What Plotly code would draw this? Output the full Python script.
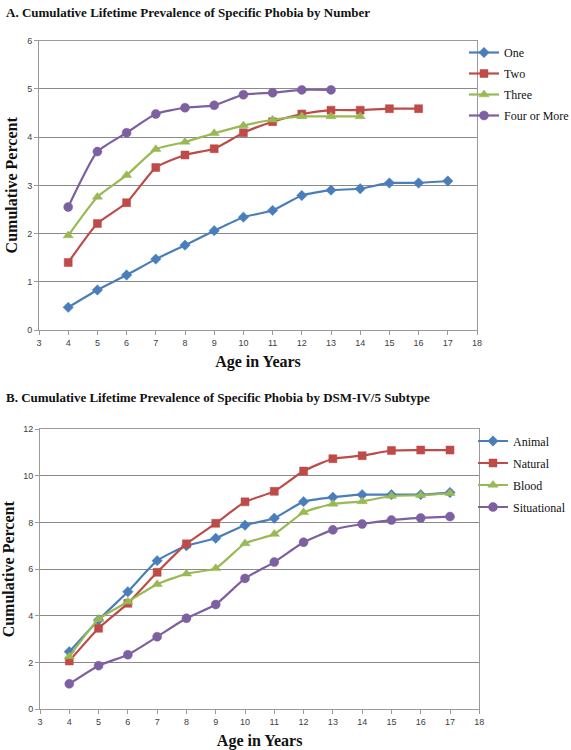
import plotly.graph_objects as go

# ---- Data: Panel A (by number of phobias) ----
ages_a_one = [4, 5, 6, 7, 8, 9, 10, 11, 12, 13, 14, 15, 16, 17]
one = [0.47, 0.83, 1.14, 1.47, 1.76, 2.06, 2.34, 2.48, 2.79, 2.90, 2.93, 3.05, 3.05, 3.09]
ages_a_two = [4, 5, 6, 7, 8, 9, 10, 11, 12, 13, 14, 15, 16]
two = [1.40, 2.21, 2.64, 3.37, 3.63, 3.76, 4.09, 4.32, 4.48, 4.56, 4.56, 4.59, 4.59]
ages_a_three = [4, 5, 6, 7, 8, 9, 10, 11, 12, 13, 14]
three = [1.96, 2.76, 3.21, 3.75, 3.90, 4.08, 4.24, 4.36, 4.43, 4.43, 4.43]
ages_a_four = [4, 5, 6, 7, 8, 9, 10, 11, 12, 13]
four_more = [2.55, 3.70, 4.09, 4.48, 4.61, 4.66, 4.88, 4.92, 4.98, 4.98]

# ---- Data: Panel B (by DSM-IV/5 subtype) ----
ages_b = [4, 5, 6, 7, 8, 9, 10, 11, 12, 13, 14, 15, 16, 17]
animal = [2.47, 3.83, 5.04, 6.37, 7.01, 7.33, 7.89, 8.19, 8.90, 9.09, 9.20, 9.20, 9.20, 9.29]
natural = [2.07, 3.47, 4.54, 5.87, 7.09, 7.97, 8.89, 9.34, 10.21, 10.74, 10.87, 11.09, 11.11, 11.11]
blood = [2.26, 3.86, 4.61, 5.36, 5.81, 6.04, 7.11, 7.51, 8.44, 8.80, 8.91, 9.14, 9.17, 9.26]
situational = [1.09, 1.87, 2.34, 3.11, 3.90, 4.49, 5.61, 6.31, 7.16, 7.69, 7.94, 8.11, 8.20, 8.26]

x_ticks = list(range(3, 19))
y_ticks_a = [0, 1, 2, 3, 4, 5, 6]
y_ticks_b = [0, 2, 4, 6, 8, 10, 12]

title_a = "A. Cumulative Lifetime Prevalence of Specific Phobia by Number"
title_b = "B. Cumulative Lifetime Prevalence of Specific Phobia by DSM-IV/5 Subtype"

BLUE, RED, GREEN, PURPLE = "#4A7EBB", "#BE4B48", "#98B954", "#7D60A0"
SERIF = "Liberation Serif, Times New Roman, serif"
SANS = "Liberation Sans, Arial, sans-serif"

fig = go.Figure()

def add(x, y, name, color, symbol, size, xa, ya, legend):
    fig.add_trace(go.Scatter(
        x=x, y=y, name=name, mode="lines+markers", legendgroup=name,
        line=dict(color=color, width=2.2, shape="spline", smoothing=0.5),
        marker=dict(symbol=symbol, size=size, color=color,
                    line=dict(color=color, width=0.5)),
        xaxis=xa, yaxis=ya, legend=legend))

add(ages_a_one, one, "One", BLUE, "diamond", 8, "x", "y", "legend")
add(ages_a_two, two, "Two", RED, "square", 8, "x", "y", "legend")
add(ages_a_three, three, "Three", GREEN, "triangle-up", 9, "x", "y", "legend")
add(ages_a_four, four_more, "Four or More", PURPLE, "circle", 9, "x", "y", "legend")

add(ages_b, animal, "Animal", BLUE, "diamond", 8, "x2", "y2", "legend2")
add(ages_b, natural, "Natural", RED, "square", 8, "x2", "y2", "legend2")
add(ages_b, blood, "Blood", GREEN, "triangle-up", 9, "x2", "y2", "legend2")
add(ages_b, situational, "Situational", PURPLE, "circle", 9, "x2", "y2", "legend2")

W, H = 571, 750

def xaxis(x0, x1, anchor):
    return dict(domain=[x0 / W, x1 / W], anchor=anchor, range=[3, 18],
                automargin=False,
                tickmode="array", tickvals=x_ticks,
                ticks="outside", ticklen=4, tickcolor="#9a9a9a",
                showline=True, linecolor="#9a9a9a", linewidth=1, mirror=True,
                showgrid=False, zeroline=False,
                tickfont=dict(family=SANS, size=9, color="#404040"),
                title=dict(text="<b>Age in Years</b>",
                           font=dict(family=SERIF, size=16, color="#111111"),
                           standoff=9))

def yaxis(y0, y1, anchor, rng, ticks):
    return dict(domain=[1 - y1 / H, 1 - y0 / H], anchor=anchor, range=rng,
                automargin=False,
                tickmode="array", tickvals=ticks,
                ticks="outside", ticklen=4, tickcolor="#9a9a9a",
                showline=True, linecolor="#9a9a9a", linewidth=1, mirror=True,
                showgrid=True, gridcolor="#8a8a8a", gridwidth=1,
                zeroline=False,
                tickfont=dict(family=SANS, size=9, color="#404040"),
                title=dict(text="<b>Cumulative Percent</b>",
                           font=dict(family=SERIF, size=16, color="#111111"),
                           standoff=5))

fig.update_layout(
    width=W, height=H,
    margin=dict(l=0, r=0, t=0, b=0, autoexpand=False),
    paper_bgcolor="white", plot_bgcolor="white",
    xaxis=xaxis(39, 477, "y"),
    yaxis=yaxis(40.7, 330, "x", [0, 6], y_ticks_a),
    xaxis2=xaxis(40, 479.3, "y2"),
    yaxis2=yaxis(429.3, 709.3, "x2", [0, 12], y_ticks_b),
    legend=dict(x=464 / W, y=1 - 38 / H, xanchor="left", yanchor="top",
                font=dict(family=SERIF, size=12, color="#111111"),
                bgcolor="rgba(0,0,0,0)", itemwidth=30, tracegroupgap=2),
    legend2=dict(x=473 / W, y=1 - 426.5 / H, xanchor="left", yanchor="top",
                 font=dict(family=SERIF, size=12, color="#111111"),
                 bgcolor="rgba(0,0,0,0)", itemwidth=30, tracegroupgap=3),
    showlegend=True,
    annotations=[
        dict(text="<b>" + title_a + "</b>", x=4 / W, y=1 - 13 / H,
             xref="paper", yref="paper", xanchor="left", yanchor="middle",
             showarrow=False, font=dict(family=SERIF, size=13, color="#111111")),
        dict(text="<b>" + title_b + "</b>", x=4 / W, y=1 - 397 / H,
             xref="paper", yref="paper", xanchor="left", yanchor="middle",
             showarrow=False, font=dict(family=SERIF, size=13, color="#111111")),
    ],
)

fig.write_html("out.html",
               config={"displayModeBar": False},
               post_script="document.body.style.margin='0';document.body.style.overflow='hidden';")
